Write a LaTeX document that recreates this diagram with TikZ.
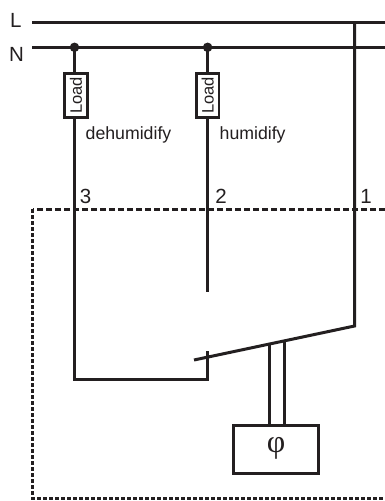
\documentclass[tikz,border=0pt]{standalone}
\usepackage{fontspec}
\setmainfont{Liberation Sans}
\newfontfamily\symfont{Liberation Serif}
\definecolor{ink}{HTML}{231F20}
\tikzset{
  wire/.style={draw=ink,line width=3pt},
  boundarytop/.style={draw=ink,line width=3pt,dash pattern=on 6pt off 3pt},
  boundaryside/.style={draw=ink,line width=3pt,dash pattern=on 3.6pt off 2.4pt},
  loadbox/.style={draw=ink,line width=2.8pt,fill=white,minimum width=22.5pt,minimum height=43.5pt,inner sep=0pt},
  loadtext/.style={rotate=90,font=\fontsize{16.5pt}{18pt}\selectfont,text=ink,inner sep=0pt},
  lbl/.style={font=\fontsize{17.7pt}{20pt}\selectfont,text=ink,inner sep=0pt},
  num/.style={font=\fontsize{20.5pt}{22pt}\selectfont,text=ink,inner sep=0pt},
  junction/.style={circle,fill=ink,draw=none,minimum size=9.5pt,inner sep=0pt},
  sensor/.style={draw=ink,line width=2.7pt,minimum width=84.5pt,minimum height=48pt,inner sep=0pt}
}
\begin{document}
\begin{tikzpicture}[x=1pt,y=-1pt]
\useasboundingbox (0,0) rectangle (385,501);
\fill[white] (0,0) rectangle (385,501);
% coordinates
\coordinate (Ls) at (32,22.6); \coordinate (Le) at (385,22.6);
\coordinate (Ns) at (32,47.3); \coordinate (Ne) at (385,47.3);
\coordinate (L1) at (354.5,22.6);
\coordinate (pivot) at (354.5,326);
\coordinate (tip) at (194,360);
\coordinate (c2end) at (207.6,292);
\coordinate (c3a) at (74.5,379); \coordinate (c3b) at (207.6,379); \coordinate (c3c) at (207.6,351);
\coordinate (s1) at (269.5,344); \coordinate (s2) at (284.5,341);
\coordinate (b1) at (32.5,209.4); \coordinate (b2) at (32.5,498.6);
\coordinate (b0) at (385,209.4); \coordinate (b3) at (385,498.6);
% boundary
\draw[boundarytop] (b0) -- (b1);
\draw[boundaryside] (b1) -- (b2) -- (b3);
% mains
\draw[wire] (Ls) -- (Le);
\draw[wire,line width=3.3pt] (Ns) -- (Ne);
\node[junction] (j3) at (74.5,47.3) {};
\node[junction] (j2) at (207.6,47.3) {};
% wires
\draw[wire] (L1) -- (pivot) -- (tip);
\draw[wire] (j2.center) -- (c2end);
\draw[wire,line join=miter] (j3.center) -- (c3a) -- (c3b) -- (c3c);
\draw[wire] (s1) -- (269.5,424.5);
\draw[wire] (s2) -- (284.5,424.5);
% loads
\node[loadbox] (l3) at (76,95.5) {};
\node[loadtext] (lt3) at (l3.center) {Load};
\node[loadbox] (l2) at (207.8,95.5) {};
\node[loadtext] (lt2) at (l2.center) {Load};
% sensor
\node[sensor] (phi) at (276,449.5) {};
\node[text=ink,inner sep=0pt,font=\symfont\fontsize{32pt}{34pt}\selectfont] (phit) at (276,448) {φ};
% labels
\node[num,anchor=west] (tL) at (10,20) {L};
\node[num,anchor=west] (tN) at (9,54.5) {N};
\node[lbl,anchor=base west] (td) at (85.5,139) {dehumidify};
\node[lbl,anchor=base west] (th) at (219.5,139) {humidify};
\node[num,anchor=base] (t3) at (85.5,203) {3};
\node[num,anchor=base] (t2) at (221,203) {2};
\node[num,anchor=base] (t1) at (366,203) {1};
\end{tikzpicture}
\end{document}
